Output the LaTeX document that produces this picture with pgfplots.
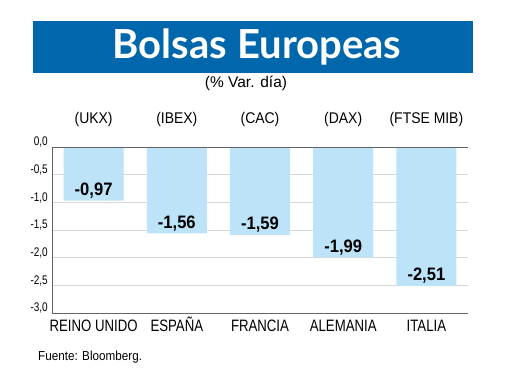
\documentclass[border=0pt]{standalone}
\usepackage{fontspec}
\setmainfont{Liberation Sans}
\newfontfamily\condf{Liberation Sans}[FakeStretch=0.8]
\newfontfamily\semif{Liberation Sans}[FakeStretch=0.9]
\newfontfamily\boldcond{Liberation Sans}[FakeStretch=0.92]
\newfontfamily\titlef{Lato}
\usepackage{pgfplots}
\pgfplotsset{compat=1.18}
\definecolor{banner}{RGB}{0,103,172}
\definecolor{barc}{RGB}{188,227,248}
\definecolor{gridc}{RGB}{215,215,215}
\definecolor{axc}{RGB}{100,100,100}
\begin{document}
\begin{tikzpicture}[x=1pt,y=1pt]
\path[use as bounding box] (0,0) rectangle (520,-390);
\fill[banner] (33,-21) rectangle (473,-73);
\node[anchor=base, text=white, inner sep=0pt, font=\titlef\bfseries\fontsize{40}{40}\selectfont] at (257,-59) {Bolsas Europeas};
\node[anchor=base, inner sep=0pt, font=\fontsize{15.5}{15.5}\selectfont] at (246,-88) {(\% Var. día)};
\node[anchor=base west, inner sep=0pt, font=\semif\fontsize{13}{13}\selectfont] at (38,-361) {Fuente: Bloomberg.};

\begin{axis}[
  at={(52pt,-313pt)}, anchor=south west, scale only axis,
  width=416pt, height=166pt,
  xmin=-0.5, xmax=4.5, ymin=-3, ymax=0,
  axis x line*=bottom, axis y line*=left,
  axis line style={-, axc, line width=0.8pt},
  ytick={-3,-2.5,-2,-1.5,-1,-0.5,0},
  ymajorgrids, grid style={gridc, line width=0.8pt},
  major tick length=0pt,
  xtick={0,1,2,3,4},
  xticklabels={REINO UNIDO, ESPAÑA, FRANCIA, ALEMANIA, ITALIA},
  xticklabel style={font=\condf\fontsize{16.5}{16.5}\selectfont, anchor=base, inner sep=0pt, yshift=-19pt},
  yticklabel style={font=\condf\fontsize{12.5}{12.5}\selectfont, anchor=base east, inner sep=0pt, xshift=-4pt, yshift=1pt,
    /pgf/number format/fixed, /pgf/number format/fixed zerofill, /pgf/number format/precision=1, /pgf/number format/use comma},
  /pgf/number format/assume math mode=true,
  clip=false,
]
\addplot[ybar, bar width=60pt, fill=barc, draw=none,
  nodes near coords={\pgfmathprintnumber[fixed, fixed zerofill, precision=2, use comma, assume math mode=true]{\pgfplotspointmeta}},
  every node near coord/.append style={font=\boldcond\bfseries\fontsize{18}{18}\selectfont, anchor=base, yshift=5pt, inner sep=0pt, text=black},
] coordinates {(0,-0.97) (1,-1.56) (2,-1.59) (3,-1.99) (4,-2.51)};
\draw[axc, line width=0.8pt] (axis cs:-0.5,0) -- (axis cs:4.5,0);
\end{axis}

\begin{axis}[
  at={(52pt,-313pt)}, anchor=south west, scale only axis,
  width=416pt, height=166pt,
  xmin=-0.5, xmax=4.5, ymin=-3, ymax=0,
  hide y axis, axis x line*=top, axis line style={draw=none},
  major tick length=0pt,
  xtick={0,1,2,3,4},
  xticklabels={(UKX), (IBEX), (CAC), (DAX), (FTSE MIB)},
  xticklabel style={font=\semif\fontsize{15.5}{15.5}\selectfont, anchor=base, inner sep=0pt, yshift=23pt},
]
\addplot[draw=none] coordinates {(0,0)};
\end{axis}
\end{tikzpicture}
\end{document}
